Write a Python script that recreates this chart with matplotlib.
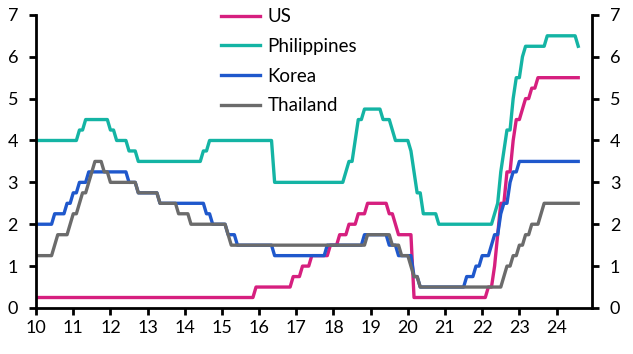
import numpy as np
import matplotlib
matplotlib.use("Agg")
import matplotlib.pyplot as plt

plt.rcParams["font.family"] = ["Lato", "DejaVu Sans"]

# policy rate changes: (year, month, new level), monthly data Jan 2010 - Aug 2024
us_changes = [
    (2010, 1, 0.25), (2015, 12, 0.5), (2016, 12, 0.75), (2017, 3, 1.0), (2017, 6, 1.25),
    (2017, 12, 1.5), (2018, 3, 1.75), (2018, 6, 2.0), (2018, 9, 2.25), (2018, 12, 2.5),
    (2019, 7, 2.25), (2019, 9, 2.0), (2019, 10, 1.75), (2020, 3, 0.25), (2022, 3, 0.5),
    (2022, 5, 1.0), (2022, 6, 1.75), (2022, 7, 2.5), (2022, 9, 3.25), (2022, 11, 4.0),
    (2022, 12, 4.5), (2023, 2, 4.75), (2023, 3, 5.0), (2023, 5, 5.25), (2023, 7, 5.5),
]
philippines_changes = [
    (2010, 1, 4.0), (2011, 3, 4.25), (2011, 5, 4.5), (2012, 1, 4.25), (2012, 3, 4.0),
    (2012, 7, 3.75), (2012, 10, 3.5), (2014, 7, 3.75), (2014, 9, 4.0), (2016, 6, 3.0),
    (2018, 5, 3.25), (2018, 6, 3.5), (2018, 8, 4.0), (2018, 9, 4.5), (2018, 11, 4.75),
    (2019, 5, 4.5), (2019, 8, 4.25), (2019, 9, 4.0), (2020, 2, 3.75), (2020, 3, 3.25),
    (2020, 4, 2.75), (2020, 6, 2.25), (2020, 11, 2.0), (2022, 5, 2.25), (2022, 6, 2.5),
    (2022, 7, 3.25), (2022, 8, 3.75), (2022, 9, 4.25), (2022, 11, 5.0), (2022, 12, 5.5),
    (2023, 2, 6.0), (2023, 3, 6.25), (2023, 10, 6.5), (2024, 8, 6.25),
]
korea_changes = [
    (2010, 1, 2.0), (2010, 7, 2.25), (2010, 11, 2.5), (2011, 1, 2.75), (2011, 3, 3.0),
    (2011, 6, 3.25), (2012, 7, 3.0), (2012, 10, 2.75), (2013, 5, 2.5), (2014, 8, 2.25),
    (2014, 10, 2.0), (2015, 3, 1.75), (2015, 6, 1.5), (2016, 6, 1.25), (2017, 11, 1.5),
    (2018, 11, 1.75), (2019, 7, 1.5), (2019, 10, 1.25), (2020, 3, 0.75), (2020, 5, 0.5),
    (2021, 8, 0.75), (2021, 11, 1.0), (2022, 1, 1.25), (2022, 4, 1.5), (2022, 5, 1.75),
    (2022, 7, 2.25), (2022, 8, 2.5), (2022, 10, 3.0), (2022, 11, 3.25), (2023, 1, 3.5),
]
thailand_changes = [
    (2010, 1, 1.25), (2010, 7, 1.5), (2010, 8, 1.75), (2010, 12, 2.0), (2011, 1, 2.25),
    (2011, 3, 2.5), (2011, 4, 2.75), (2011, 6, 3.0), (2011, 7, 3.25), (2011, 8, 3.5),
    (2011, 11, 3.25), (2012, 1, 3.0), (2012, 10, 2.75), (2013, 5, 2.5), (2013, 11, 2.25),
    (2014, 3, 2.0), (2015, 3, 1.75), (2015, 4, 1.5), (2018, 12, 1.75), (2019, 8, 1.5),
    (2019, 11, 1.25), (2020, 2, 1.0), (2020, 3, 0.75), (2020, 5, 0.5), (2022, 8, 0.75),
    (2022, 9, 1.0), (2022, 11, 1.25), (2023, 1, 1.5), (2023, 3, 1.75), (2023, 5, 2.0),
    (2023, 8, 2.25), (2023, 9, 2.5),
]

series = [
    ("US", us_changes, "#d61f7f"),
    ("Philippines", philippines_changes, "#14b4a4"),
    ("Korea", korea_changes, "#1f58cc"),
    ("Thailand", thailand_changes, "#6b6b6b"),
]

months = [(y, m) for y in range(2010, 2025) for m in range(1, 13) if (y, m) <= (2024, 8)]
x = np.array([y - 2000 + (m - 1) / 12 for y, m in months])


def monthly(changes):
    vals = []
    level = changes[0][2]
    for ym in months:
        for y, m, v in changes:
            if (y, m) == ym:
                level = v
        vals.append(level)
    return np.array(vals)


fig = plt.figure(figsize=(6.33, 3.54), dpi=100)
ax = fig.add_axes([0.057, 0.130, 0.878, 0.828])

for name, changes, color in series:
    ax.plot(x, monthly(changes), color=color, lw=2.4, label=name)

ax.set_xlim(10, 24.95)
ax.set_ylim(0, 7)
ax.set_xticks(range(10, 25))
ax.set_yticks(range(0, 8))
ax.spines["top"].set_visible(False)
for s in ["left", "right", "bottom"]:
    ax.spines[s].set_linewidth(2)
ax.tick_params(axis="both", labelsize=13, width=2, length=5, colors="black")
ax.tick_params(axis="y", pad=8)
ax.tick_params(axis="x", pad=4)
ax.tick_params(axis="y", which="both", right=True, labelright=True)

ax.legend(loc="upper left", bbox_to_anchor=(0.315, 1.055), frameon=False,
          fontsize=13.5, handlelength=2.1, handletextpad=0.4, labelspacing=0.68,
          borderpad=0)

fig.savefig("out.png", dpi=100)
